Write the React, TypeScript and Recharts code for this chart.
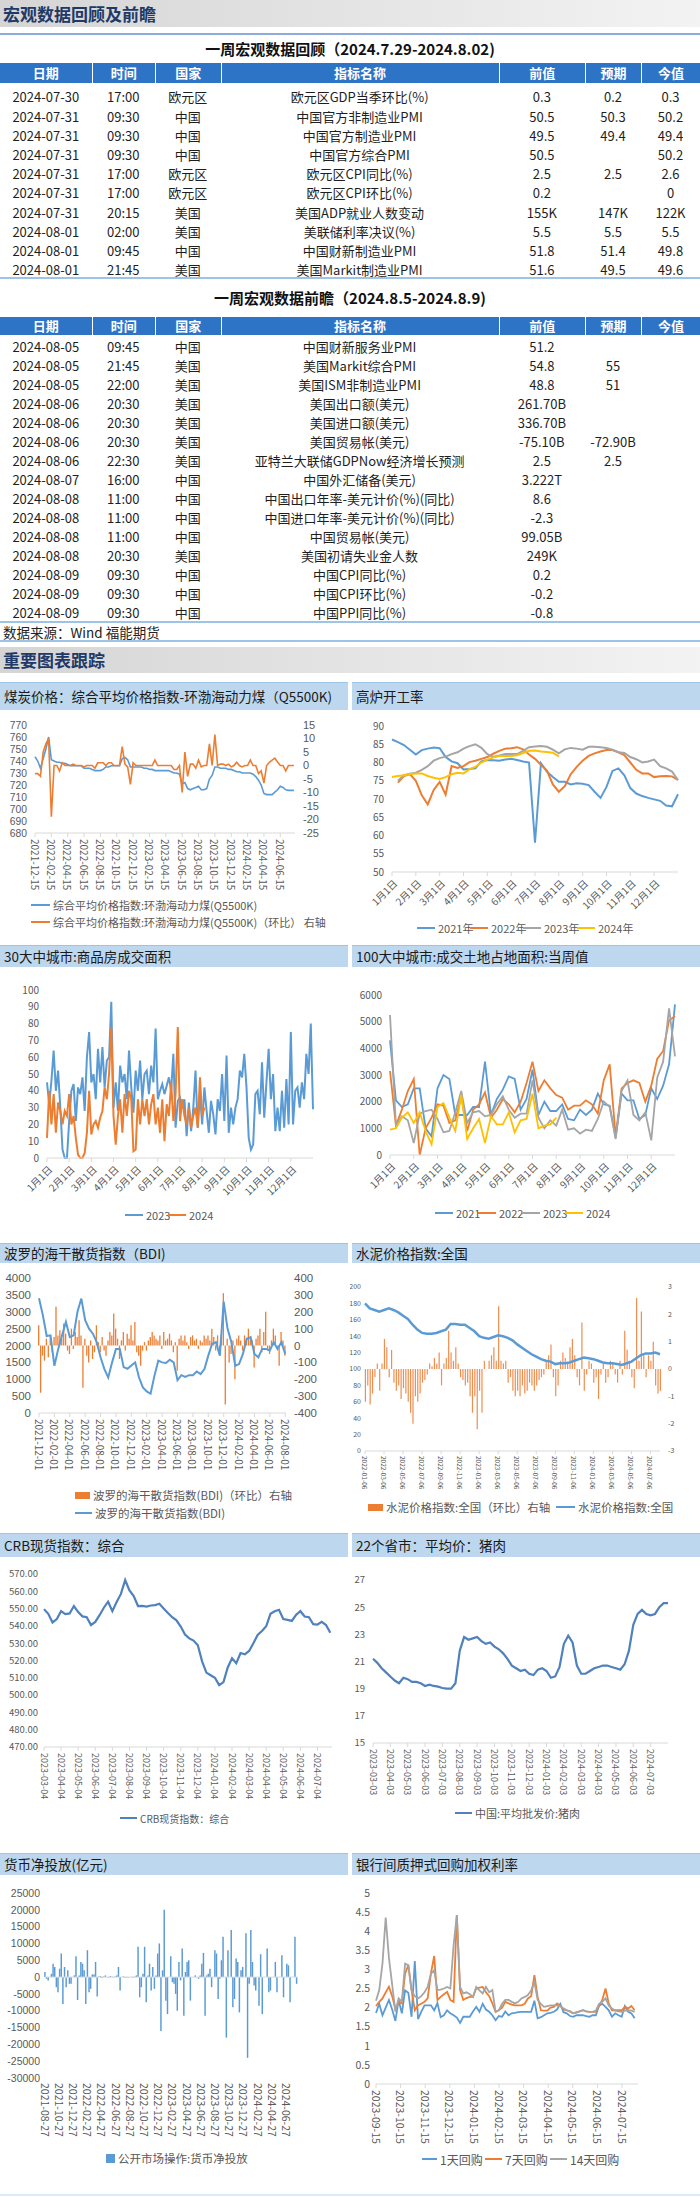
import React from 'react';
import { ComposedChart, LineChart, BarChart, Line, Bar, XAxis, YAxis, ReferenceLine } from 'recharts';

const FONT = '"Noto Sans CJK SC", "Noto Sans", sans-serif';
const GRAY = '#595959';
const BLUE = '#5B9BD5';
const ORANGE = '#ED7D31';
const SILVER = '#A5A5A5';
const GOLD = '#FFC000';
const AXIS = '#D9D9D9';

// ---------- tables ----------
const tableHead = ['日期', '时间', '国家', '指标名称', '前值', '预期', '今值'];
const colW = [91.5, 63.5, 65.5, 278.2, 86.3, 56, 59];

const reviewRows = [
  ['2024-07-30', '17:00', '欧元区', '欧元区GDP当季环比(%)', '0.3', '0.2', '0.3'],
  ['2024-07-31', '09:30', '中国', '中国官方非制造业PMI', '50.5', '50.3', '50.2'],
  ['2024-07-31', '09:30', '中国', '中国官方制造业PMI', '49.5', '49.4', '49.4'],
  ['2024-07-31', '09:30', '中国', '中国官方综合PMI', '50.5', '', '50.2'],
  ['2024-07-31', '17:00', '欧元区', '欧元区CPI同比(%)', '2.5', '2.5', '2.6'],
  ['2024-07-31', '17:00', '欧元区', '欧元区CPI环比(%)', '0.2', '', '0'],
  ['2024-07-31', '20:15', '美国', '美国ADP就业人数变动', '155K', '147K', '122K'],
  ['2024-08-01', '02:00', '美国', '美联储利率决议(%)', '5.5', '5.5', '5.5'],
  ['2024-08-01', '09:45', '中国', '中国财新制造业PMI', '51.8', '51.4', '49.8'],
  ['2024-08-01', '21:45', '美国', '美国Markit制造业PMI', '51.6', '49.5', '49.6'],
];

const previewRows = [
  ['2024-08-05', '09:45', '中国', '中国财新服务业PMI', '51.2', '', ''],
  ['2024-08-05', '21:45', '美国', '美国Markit综合PMI', '54.8', '55', ''],
  ['2024-08-05', '22:00', '美国', '美国ISM非制造业PMI', '48.8', '51', ''],
  ['2024-08-06', '20:30', '美国', '美国出口额(美元)', '261.70B', '', ''],
  ['2024-08-06', '20:30', '美国', '美国进口额(美元)', '336.70B', '', ''],
  ['2024-08-06', '20:30', '美国', '美国贸易帐(美元)', '-75.10B', '-72.90B', ''],
  ['2024-08-06', '22:30', '美国', '亚特兰大联储GDPNow经济增长预测', '2.5', '2.5', ''],
  ['2024-08-07', '16:00', '中国', '中国外汇储备(美元)', '3.222T', '', ''],
  ['2024-08-08', '11:00', '中国', '中国出口年率-美元计价(%)(同比)', '8.6', '', ''],
  ['2024-08-08', '11:00', '中国', '中国进口年率-美元计价(%)(同比)', '-2.3', '', ''],
  ['2024-08-08', '11:00', '中国', '中国贸易帐(美元)', '99.05B', '', ''],
  ['2024-08-08', '20:30', '美国', '美国初请失业金人数', '249K', '', ''],
  ['2024-08-09', '09:30', '中国', '中国CPI同比(%)', '0.2', '', ''],
  ['2024-08-09', '09:30', '中国', '中国CPI环比(%)', '-0.2', '', ''],
  ['2024-08-09', '09:30', '中国', '中国PPI同比(%)', '-0.8', '', ''],
];

// ---------- tick labels ----------
const coalTicks = ['2021-12-15', '2022-02-15', '2022-04-15', '2022-06-15', '2022-08-15', '2022-10-15', '2022-12-15', '2023-02-15', '2023-04-15', '2023-06-15', '2023-08-15', '2023-10-15', '2023-12-15', '2024-02-15', '2024-04-15', '2024-06-15'];
const monthTicks = ['1月1日', '2月1日', '3月1日', '4月1日', '5月1日', '6月1日', '7月1日', '8月1日', '9月1日', '10月1日', '11月1日', '12月1日'];
const bdiTicks = ['2021-12-01', '2022-02-01', '2022-04-01', '2022-06-01', '2022-08-01', '2022-10-01', '2022-12-01', '2023-02-01', '2023-04-01', '2023-06-01', '2023-08-01', '2023-10-01', '2023-12-01', '2024-02-01', '2024-04-01', '2024-06-01', '2024-08-01'];
const cementTicks = ['2022-01-06', '2022-03-06', '2022-05-06', '2022-07-06', '2022-09-06', '2022-11-06', '2023-01-06', '2023-03-06', '2023-05-06', '2023-07-06', '2023-09-06', '2023-11-06', '2024-01-06', '2024-03-06', '2024-05-06', '2024-07-06'];
const crbTicks = ['2023-03-04', '2023-04-04', '2023-05-04', '2023-06-04', '2023-07-04', '2023-08-04', '2023-09-04', '2023-10-04', '2023-11-04', '2023-12-04', '2024-01-04', '2024-02-04', '2024-03-04', '2024-04-04', '2024-05-04', '2024-06-04', '2024-07-04'];
const porkTicks = ['2023-03-03', '2023-04-03', '2023-05-03', '2023-06-03', '2023-07-03', '2023-08-03', '2023-09-03', '2023-10-03', '2023-11-03', '2023-12-03', '2024-01-03', '2024-02-03', '2024-03-03', '2024-04-03', '2024-05-03', '2024-06-03', '2024-07-03'];
const moneyTicks = ['2021-08-27', '2021-10-27', '2021-12-27', '2022-02-27', '2022-04-27', '2022-06-27', '2022-08-27', '2022-10-27', '2022-12-27', '2023-02-27', '2023-04-27', '2023-06-27', '2023-08-27', '2023-10-27', '2023-12-27', '2024-02-27', '2024-04-27', '2024-06-27'];
const repoTicks = ['2023-09-15', '2023-10-15', '2023-11-15', '2023-12-15', '2024-01-15', '2024-02-15', '2024-03-15', '2024-04-15', '2024-05-15', '2024-06-15', '2024-07-15'];

// ---------- series ----------
// coal, one point every 1/3 month from 2021-12-15
const coalIndex = [
  743.5, 740, 734, 742, 750, 760, 741, 740, 739, 739, 738, 738, 737, 736, 736, 736, 736, 736,
  734, 734, 734, 733, 732, 732, 732, 733, 735, 735, 736, 736, 736, 736, 742, 743, 741, 735,
  735, 735, 735, 735, 734, 734, 733, 733, 732, 732, 732, 732, 732, 732, 731, 730, 730, 729,
  721, 722, 717, 716, 717, 718, 719, 716, 716, 717, 725, 728, 735, 735, 734, 734, 734, 733,
  733, 732, 731, 731, 730, 730, 730, 730, 729, 727, 724, 720, 713, 712, 712, 712, 714, 716,
  719, 718, 716, 715.5, 715.5, 715.5,
];
const coalMoM = [
  -3, -3, -4, 5, 8, 10, -19, 0, 0, -2, 1, 0, 0, 0, 0.5, 0, 0, 0,
  -0.5, 0, 0, 0, -1, 1, 1, 1, 0, 1, 1, 0, 0, 0, 7, 0.5, -0.5, -7,
  1, 0, 0, 0, 0, 0, 0, 0, 2, 0, 0, 0, 0, 0, 0, -1.5, -1.5, 0,
  -10, 5, -4, 0.5, 0.5, -1, 2, -0.5, 0, 0, 8, 0, 11.5, 0, 0.5, 0.5, 0, 0.5,
  -0.5, 0, 1.2, 0, -0.5, 0, 0, 2, 0, 0, -3, -2, -6.5, 0, 1.2, 2, 2.7, 1.3,
  0, 0, -2, 0, 0, 0,
];

// blast furnace, 4 points per month
const bf2021 = [86.3, 85.6, 84.8, 83.5, 82.2, 83.4, 83.8, 84.1, 83.9, 81.5, 80.3, 79.8, 78.1, 78.2, 78.4, 80.3, 80.7, 80.6, 80.5, 80.8, 81.0, 80.7, 80.3, 80.0, 58, 79.8, 77.5, 76.0, 74.7, 74.7, 74.0, 74.3, 74.2, 73.8, 72.0, 70.3, 73.3, 77.7, 78.4, 76.5, 73.0, 71.5, 70.8, 70.3, 69.9, 69.5, 68.2, 68.0, 71.3];
const bf2022 = [null, 74.5, 76.3, 76.8, 75.0, 71.0, 68.5, 72.5, 74.7, 71.2, 79.0, 78.5, 79.0, 80.1, 80.5, 81.0, 81.5, 82.4, 83.2, 83.8, 83.9, 84.2, 83.6, 82.2, 81.0, 79.4, 77.8, 74.0, 72.0, 73.5, 76.8, 78.8, 80.5, 81.8, 82.5, 83.0, 83.4, 83.4, 82.8, 82.0, 80.0, 78.0, 77.0, 77.0, 76.0, 76.2, 76.3, 76.2, 75.2];
const bf2023 = [null, 75.0, 76.5, 76.9, 77.2, 78.0, 79.0, 80.5, 81.2, 81.6, 82.3, 82.8, 83.8, 84.5, 85.0, 84.0, 82.3, 81.6, 81.9, 82.3, 82.3, 82.3, 83.2, 84.2, 84.4, 84.5, 84.3, 83.5, 82.5, 83.6, 84.0, 83.8, 83.5, 84.3, 84.3, 84.2, 84.0, 83.5, 82.8, 82.6, 81.5, 80.9, 80.0, 80.3, 80.8, 79.0, 78.4, 77.5, 75.2];
const bf2024 = [76.0, 76.3, 76.5, 76.8, 77.0, 77.0, 76.3, 75.8, 75.5, 76.0, 76.8, 77.2, 77.0, 78.2, 78.8, 80.0, 80.8, 81.4, 81.8, 81.8, 81.8, 82.0, 82.6, 83.2, 83.3, 83.0, 82.9, 82.7, 81.7];

// 30 cities housing sales, 10 points per month
const house2023 = [
  45, 32, 46, 64, 40, 52, 30, 5, 0, 0, 22, 40, 44, 22, 42, 38, 48, 28, 60, 75,
  45, 50, 35, 65, 45, 66, 42, 58, 60, 93, 30, 45, 28, 55, 45, 50, 35, 64, 42, 27,
  52, 40, 58, 35, 50, 52, 38, 55, 45, 77, 35, 40, 44, 38, 43, 48, 40, 62, 18, 34,
  36, 30, 35, 13, 33, 16, 30, 52, 18, 38, 20, 42, 28, 15, 34, 26, 14, 35, 28, 50,
  22, 61, 15, 30, 20, 30, 35, 52, 48, 62, 42, 12, 5, 8, 38, 40, 26, 57, 24, 45,
  65, 35, 50, 16, 30, 16, 40, 18, 47, 20, 75, 20, 40, 42, 30, 45, 35, 62, 50, 80, 29,
];
const house2024 = [
  12, 40, 20, 38, 15, 33, 28, 20, 28, 25, 38, 20, 25, 12, 2, 0, 0, 3, 15, 40,
  14, 20, 22, 18, 24, 28, 42, 35, 50, 78, 25, 8, 25, 35, 15, 38, 25, 40, 35, 4,
  5, 35, 20, 35, 25, 35, 20, 32, 38, 20, 30, 15, 35, 10, 32, 25, 45, 22, 38, 78,
  22, 35, 25, 20, 30, 18, 25, 30, 18, 48, 25, 30,
];

// 100 cities land area, 4 points per month
const land2021 = [4300, 2050, 1800, 1900, 2500, 2500, 1000, 700, 2500, 3000, 2850, 1500, 1500, 1500, 1800, 1800, 3500, 1500, 2100, 2450, 2950, 2850, 1700, 2100, 3200, 1500, 2000, 1650, 1650, 1900, 1350, 1300, 1700, 1500, 1700, 2300, 1900, 1850, 650, 2300, 2050, 2050, 1350, 1500, 2500, 2100, 2600, 3400, 5650];
const land2022 = [3150, 1100, 1700, 2400, 2850, 0, 1000, 1400, 1900, 1850, 1200, 1300, 2200, 900, 1700, 1900, 2350, 1400, 1700, 2100, 1900, 1600, 2000, 2700, 3500, 2400, 2800, 2500, 2250, 2150, 1700, 1850, 1850, 2050, 1900, 1550, 2800, 3400, 700, 2500, 2700, 2800, 2700, 2000, 2600, 3600, 3900, 5050, 5200];
const land2023 = [5250, 1100, 1450, 1300, 450, 1550, 1650, 1700, 1350, 850, 900, 1600, 2400, 1200, 1600, 1650, 1450, 1500, 1900, 2200, 1700, 1400, 1550, 1550, 2800, 1400, 1000, 1300, 1100, 1700, 950, 1000, 800, 950, 900, 1350, 2000, 1800, 600, 2400, 2800, 1500, 1300, 1600, 550, 2900, 3500, 5500, 3700];
const land2024 = [950, 1000, 1400, 1600, 1200, 1600, 900, 400, 1800, 1950, 1400, 900, 2250, 600, 1000, 1350, 450, 1450, 1150, 1150, 1600, 850, 1300, 1350, 2300, 1000, 1100, 1150, 1400];

// BDI: index every half month, change every quarter month, from 2021-12-01
const bdiIndex = [3400, 2900, 2280, 2300, 1400, 1900, 2300, 2700, 2250, 2300, 3000, 3390, 2750, 2500, 2350, 2100, 1650, 1300, 1050, 1500, 1900, 1900, 1360, 1310, 1410, 1500, 1050, 760, 640, 570, 1100, 1550, 1500, 1480, 1580, 1500, 970, 1120, 1070, 1120, 1120, 1230, 1150, 1300, 1700, 2050, 2100, 1700, 3300, 2500, 2100, 1400, 1450, 1750, 2200, 2250, 1750, 1650, 1900, 1900, 1850, 2100, 1900, 2100, 1750];
const bdiChange = [
  120, -280, -60, -90, 40, -70, 60, -40, 50, 230, 60, 90, 40, 130, 70, -30, -50, 100, -20, 80,
  50, 150, 60, -250, 40, -60, -100, 30, -80, -40, 120, 20, -40, 50, -30, -60, 30, 80, 60, 190,
  100, 40, -80, 30, 80, -30, 70, 40, 120, 30, 140, -40, -60, -120, -30, 20, -30, 30, 50, 80,
  60, 40, 30, 60, -20, 80, 30, 40, 70, 30, -40, 20, -150, 40, 60, 30, 60, 20, -20, 50,
  60, 30, 40, -20, 30, 20, 60, 40, 60, 30, 100, 50, -30, 60, -40, 60, 310, -350, 40, -100,
  -50, 30, -200, 40, 60, 30, -30, 60, 40, 100, 50, 30, -130, 40, 60, 100, -40, 80, 200, -30,
  -50, 30, 100, 60, -20, -120, 80, 30, -60,
];

// cement: index every half month, change every quarter month, from 2022-01-06
const cementIndex = [180, 174, 172, 170, 172, 174, 172, 169, 165, 161, 154, 148, 144, 143, 143, 144, 146, 148, 155, 155, 154, 154, 150, 146, 140, 138, 137, 139, 141, 140, 138, 135, 130, 126, 122, 118, 115, 112, 110, 109, 106, 107, 107, 108, 110, 112, 114, 113, 112, 110, 108, 107, 107, 106, 105, 107, 109, 113, 117, 119, 119, 120, 118];
const cementChange = [
  -1.2, -0.6, -1.3, -0.9, -0.3, 0.2, -0.8, 0.2, 1.1, 0.8, -0.3, 0.7, -0.5, -0.8, -0.6, -1.1, -0.7, -0.9, -1.2, -1.6,
  -2.0, -1.0, -1.2, -0.9, -0.5, -0.4, -0.2, 0.2, 0.1, 0.4, 0.2, 0.6, -0.6, 0.2, 0.4, 1.4, 0.6, 0.3, 0.8, 0.2,
  -0.3, -0.4, -0.6, -0.5, -1.0, -1.6, -1.0, -2.2, -0.8, -1.6, 0.3, 0.0, 0.3, 0.5, 0.8, 0.3, 2.3, 0.3, 0.2, 0.3,
  -0.5, -0.3, -0.8, -1.0, -0.8, -1.0, -0.6, -0.9, -0.8, -0.5, -0.6, -0.8, -0.6, -0.4, -0.3, -0.2, 0.3, 0.5, 0.9, -0.3,
  -1.0, -0.6, 0.3, 0.6, 0.4, 0.2, 0.8, 1.1, 0.5, -0.3, -0.6, 1.7, -0.8, -0.2, 0.3, 0.2, -0.5, -0.3, -1.1, -0.2,
  0.2, -0.5, -0.3, 0.3, 0.2, -0.2, -0.5, 0.3, -0.2, 1.4, 0.7, 0.3, -0.3, -0.7, 2.6, 0.3, 2.1, 0.5, -0.3, 0.5,
  0.3, 1.0, -0.6, -0.9, -0.8,
];

// CRB, weekly from 2023-03-04
const crbValues = [549.7, 547, 542, 544, 548.5, 546.8, 547.2, 551.5, 548, 545.5, 545, 540.5, 542.3, 546.2, 550.5, 554, 548.5, 553.8, 558.5, 566.5, 560.5, 557.2, 551.5, 551.6, 551.2, 551.8, 552, 552.8, 550, 547.5, 545, 543.2, 539.6, 535, 532.8, 531.5, 528.8, 519.5, 513, 511.5, 510, 505.8, 507.5, 516, 521.3, 518.4, 524.3, 523.6, 525.5, 530, 534.8, 537, 539.8, 547, 548.5, 549.3, 544, 543.5, 542.9, 546.4, 548.5, 545.4, 545, 541, 540.8, 542.3, 540.5, 536];

// pork, weekly from 2023-03-03
const porkValues = [21.2, 20.9, 20.5, 20.2, 19.9, 19.6, 19.4, 19.8, 19.7, 19.5, 19.5, 19.4, 19.2, 19.3, 19.2, 19.15, 19.05, 19.0, 19.0, 19.4, 21.8, 22.8, 22.6, 22.7, 22.8, 22.5, 22.3, 22.4, 22.1, 21.9, 21.6, 21.2, 20.7, 20.5, 20.3, 20.4, 20.1, 20.0, 20.4, 20.5, 20.3, 19.8, 19.9, 20.6, 22.3, 22.9, 22.4, 20.7, 20.1, 20.1, 20.3, 20.5, 20.6, 20.7, 20.7, 20.6, 20.5, 20.4, 20.8, 21.8, 23.7, 24.5, 24.8, 24.5, 24.4, 24.5, 25.0, 25.3, 25.3];

// net money injection, weekly from 2021-08-27
const moneyValues = [
  1500, -500, -1000, 0, 1000, 4000, 3000, -3000, -4500, 2500, 7000, -8000, 3000, -3000, 2000, -2000, -2000, 0, 500, 6200,
  -6800, 500, 4500, 4000, 2000, -8000, 8000, -4500, -3500, 800, 800, 4500, -5800, 200, 300, -300, 200, 500, 0, -200,
  300, 100, -100, 200, 500, 3000, -4000, 0, 200, -200, 100, -100, 0, 100, -100, 200, 500, 9000, -6000, -3000,
  1000, 9000, -7500, 500, 4000, -4000, 3000, -3500, 500, 7000, 10000, -16000, 2000, 20000, -7000, -11000, 0, 6200, -1500, -2000,
  -5000, -10000, 4500, -1000, 8500, -11500, 1500, 4500, 5000, -7000, 0, 0, 500, 0, -500, 500, 4000, 7200, -11500, 500,
  1000, 2500, -3000, 0, 8000, 7000, -6500, -500, 5000, 12000, 0, -18000, 8000, 0, 14000, -9000, -6500, 5500, 4500, -10500,
  2000, 3000, 0, 13000, -24000, -2000, 14000, 4500, -2500, -4000, 0, -8500, 6800, -11000, 0, 0, 8500, -4500, -4000, 0,
  0, 4500, -4500, 0, 0, 6500, -6000, 0, 4000, 3500, -7500, 0, 0, 12000, -2000,
];

// repo rates, every 4 days from 2023-09-15
const repo1d = [1.86, 2.1, 1.8, 2.0, 2.2, 1.95, 1.65, 2.2, 1.85, 2.45, 2.39, 1.76, 3.22, 1.7, 1.89, 2.06, 2.06, 2.06, 1.93, 2.12, 1.75, 1.8, 1.93, 1.85, 1.8, 1.74, 1.6, 1.76, 1.76, 1.76, 1.9, 2.02, 1.89, 2.1, 1.95, 1.89, 1.8, 1.67, 1.78, 1.76, 1.9, 1.8, 1.85, 1.86, 1.88, 1.89, 1.89, 1.89, 1.89, 2.18, 1.72, 1.75, 1.8, 1.85, 1.86, 1.89, 1.95, 2.1, 1.88, 1.85, 1.78, 1.76, 1.8, 1.8, 1.8, 1.78, 1.76, 1.8, 1.8, 2.05, 2.1, 2.02, 1.93, 1.76, 1.85, 1.8, 1.76, 2.04, 1.89, 1.85, 1.72];
const repo7d = [2.04, 2.15, 2.24, 2.4, 2.55, 2.3, 1.95, 2.15, 2.11, 2.89, 3.11, 2.46, 1.93, 2.06, 2.1, 2.15, 2.25, 2.9, 3.35, 2.2, 2.28, 2.35, 2.41, 2.2, 2.15, 4.42, 2.46, 2.2, 2.25, 2.28, 2.28, 2.5, 2.52, 2.54, 2.4, 2.3, 2.11, 1.89, 1.93, 2.0, 2.15, 2.11, 2.08, 2.06, 2.06, 2.06, 2.1, 2.24, 2.3, 2.85, 2.28, 1.93, 1.92, 1.92, 2.0, 2.02, 2.11, 2.05, 1.95, 1.93, 1.9, 1.85, 1.87, 1.9, 1.93, 1.9, 1.89, 1.89, 1.89, 2.05, 2.2, 2.5, 2.11, 1.93, 1.93, 1.93, 1.93, 2.02, 1.98, 2.04, 1.93];
const repo14d = [2.18, 2.46, 3.15, 4.36, 3.3, 2.6, 1.9, 2.24, 2.15, 3.15, 3.11, 2.45, 2.3, 2.24, 2.3, 2.4, 2.55, 2.89, 2.98, 2.46, 2.47, 2.5, 2.54, 2.5, 3.63, 4.42, 2.54, 2.37, 2.4, 2.35, 2.28, 2.54, 2.45, 2.37, 2.54, 2.4, 2.46, 1.89, 1.93, 2.1, 2.2, 2.2, 2.15, 2.11, 2.15, 2.24, 2.28, 2.33, 2.45, 2.67, 2.2, 2.1, 2.02, 2.04, 2.06, 2.06, 2.06, 2.04, 1.98, 1.93, 1.9, 1.85, 1.88, 1.9, 1.93, 1.9, 1.89, 1.89, 1.92, 2.1, 2.15, 2.24, 2.05, 1.98, 1.92, 1.9, 1.89, 1.92, 1.93, 1.92, 1.89];

// ---------- chart tables (x in months) ----------
const coalData = coalIndex.map((v, i) => ({ x: i / 3, idx: v, mom: coalMoM[i] }));
const bfData = bf2021.map((v, i) => ({ x: i / 4, a: v, b: bf2022[i], c: bf2023[i], d: bf2024[i] ?? null }));
const houseData = house2023.map((v, i) => ({ x: i / 10, a: v, b: house2024[i] ?? null }));
const landData = land2021.map((v, i) => ({ x: i / 4, a: v, b: land2022[i], c: land2023[i], d: land2024[i] ?? null }));
const bdiData = bdiChange.map((v, i) => ({ x: i / 4, chg: v, idx: i % 2 === 0 ? bdiIndex[i / 2] : null }));
const cementData = cementChange.map((v, i) => ({ x: i / 4, chg: v, idx: i % 2 === 0 ? cementIndex[i / 2] : null }));
const crbData = crbValues.map((v, i) => ({ x: i / 4, v }));
const porkData = porkValues.map((v, i) => ({ x: i / 4, v }));
const moneyData = moneyValues.map((v, i) => ({ x: (i * 7) / 30.44, v }));
const repoData = repo1d.map((v, i) => ({ x: (i * 4) / 30.44, a: v, b: repo7d[i], c: repo14d[i] }));

const positions = (labels: string[], every: number) => labels.map((_, i) => i * every);

// ---------- small pieces ----------
const vTick = (labels: string[], every: number, fs: number) => (p: any) => {
  const { x, y, payload } = p;
  const label = labels[Math.round(payload.value / every)] ?? '';
  return (
    <text x={x} y={y} transform={`rotate(90 ${x} ${y})`} textAnchor="start" dominantBaseline="central" fontSize={fs} fill={GRAY}>
      {label}
    </text>
  );
};

const dTick = (p: any) => {
  const { x, y, payload } = p;
  const label = monthTicks[Math.round(payload.value)] ?? '';
  const tx = x + 3;
  const ty = y + 3;
  return (
    <text x={tx} y={ty} transform={`rotate(-45 ${tx} ${ty})`} textAnchor="end" dominantBaseline="central" fontSize={10} fill={GRAY}>
      {label}
    </text>
  );
};

const Box = ({ left, top, children }: any) => <div style={{ position: 'absolute', left, top }}>{children}</div>;

const Section = ({ top, h, text }: any) => (
  <div style={{ position: 'absolute', left: 0, top, width: 700, height: h, background: 'linear-gradient(90deg, #d5d5d5, #f3f3f3)' }}>
    <span style={{ position: 'absolute', left: 3, top: 0, lineHeight: `${h}px`, fontSize: 17, fontWeight: 700, color: '#1F3A66' }}>{text}</span>
  </div>
);

const TitleBar = ({ left, top, w, h, text }: any) => (
  <div style={{ position: 'absolute', left, top, width: w, height: h, background: '#BDD7EE', borderTop: '1px solid #9DC3E6', boxSizing: 'border-box', paddingLeft: 4, fontSize: 13.5, lineHeight: `${h - 1}px`, color: '#1a1a1a', whiteSpace: 'nowrap', overflow: 'hidden' }}>
    {text}
  </div>
);

const Caption = ({ cy, text }: any) => (
  <div style={{ position: 'absolute', left: 0, top: cy - 11, width: 700, height: 22, lineHeight: '22px', textAlign: 'center', fontSize: 15, fontWeight: 700, color: '#111' }}>{text}</div>
);

const HLine = ({ top, color, h = 1.5 }: any) => <div style={{ position: 'absolute', left: 0, top, width: 700, height: h, background: color }} />;

const Table = ({ top, headH, rows, rowTop, rowH }: any) => (
  <>
    <div style={{ position: 'absolute', left: 0, top, width: 700, height: headH, display: 'flex', background: '#2E74C6' }}>
      {tableHead.map((h, i) => (
        <div key={i} style={{ width: colW[i], boxSizing: 'border-box', borderLeft: i ? '1.5px solid #fff' : 'none', color: '#fff', fontWeight: 700, fontSize: 13, lineHeight: `${headH}px`, textAlign: 'center' }}>{h}</div>
      ))}
    </div>
    {rows.map((r: string[], ri: number) => (
      <div key={ri} style={{ position: 'absolute', left: 0, top: rowTop + ri * rowH, width: 700, height: rowH, display: 'flex' }}>
        {r.map((c, ci) => (
          <div key={ci} style={{ width: colW[ci], textAlign: 'center', fontSize: 13, lineHeight: `${rowH}px`, whiteSpace: 'nowrap', color: '#1e1e1e' }}>{c}</div>
        ))}
      </div>
    ))}
  </>
);

const LegendItem = ({ x, y, color, text, kind = 'line', w = 18, fs = 11 }: any) => (
  <div style={{ position: 'absolute', left: x, top: y - 9, height: 18, display: 'flex', alignItems: 'center', whiteSpace: 'nowrap' }}>
    <div style={{ width: w, height: kind === 'line' ? 2.5 : kind === 'box' ? 9 : 7, background: color }} />
    <span style={{ marginLeft: 3, fontSize: fs, color: GRAY }}>{text}</span>
  </div>
);

const yTick = (fs: number) => ({ fontSize: fs, fill: GRAY });
const yTickLatin = (fs: number) => ({ fontSize: fs, fill: GRAY, fontFamily: '"Liberation Sans", Arial, sans-serif' });

export default function App() {
  return (
    <div style={{ position: 'absolute', left: 0, top: 0, width: 700, height: 2197, background: '#fff', fontFamily: FONT, overflow: 'hidden' }}>
      <Section top={0} h={27} text="宏观数据回顾及前瞻" />
      <HLine top={33} color="#8EAADB" />
      <Caption cy={49} text="一周宏观数据回顾（2024.7.29-2024.8.02)" />
      <Table top={63} headH={20} rows={reviewRows} rowTop={87.4} rowH={19.2} />
      <HLine top={277} color="#9DC3E6" h={2} />

      <Caption cy={298} text="一周宏观数据前瞻（2024.8.5-2024.8.9)" />
      <Table top={317} headH={18} rows={previewRows} rowTop={336.5} rowH={19.07} />
      <HLine top={621} color="#9DC3E6" h={1.5} />
      <div style={{ position: 'absolute', left: 3, top: 623, height: 18, lineHeight: '18px', fontSize: 13.5, color: '#222' }}>数据来源：Wind 福能期货</div>
      <HLine top={640} color="#9DC3E6" h={1.5} />

      <Section top={647} h={26} text="重要图表跟踪" />

      {/* row 1 */}
      <TitleBar left={0} top={682} w={348} h={28} text="煤炭价格：综合平均价格指数-环渤海动力煤（Q5500K)" />
      <TitleBar left={352} top={682} w={348} h={28} text="高炉开工率" />
      <Box left={0} top={715}>
        <ComposedChart width={340} height={188} data={coalData} margin={{ top: 10, right: 0, bottom: 0, left: 0 }}>
          <XAxis type="number" dataKey="x" domain={[0, 31.8]} ticks={positions(coalTicks, 2)} interval={0} height={70} tick={vTick(coalTicks, 2, 10)} tickSize={4} axisLine={{ stroke: AXIS }} tickLine={{ stroke: AXIS }} />
          <YAxis yAxisId="l" domain={[680, 770]} ticks={[680, 690, 700, 710, 720, 730, 740, 750, 760, 770]} interval={0} width={35} axisLine={false} tickLine={false} tick={yTickLatin(10.3)} />
          <YAxis yAxisId="r" orientation="right" domain={[-25, 15]} ticks={[-25, -20, -15, -10, -5, 0, 5, 10, 15]} interval={0} width={45} axisLine={false} tickLine={false} tick={yTickLatin(11)} />
          <Line yAxisId="l" dataKey="idx" stroke={BLUE} strokeWidth={1.6} dot={false} isAnimationActive={false} />
          <Line yAxisId="r" dataKey="mom" stroke={ORANGE} strokeWidth={1.6} dot={false} isAnimationActive={false} />
        </ComposedChart>
      </Box>
      <LegendItem x={31} y={905} color={BLUE} w={19} text="综合平均价格指数:环渤海动力煤(Q5500K)" />
      <LegendItem x={31} y={922} color={ORANGE} w={19} text="综合平均价格指数:环渤海动力煤(Q5500K)（环比） 右轴" />

      <Box left={350} top={718}>
        <LineChart width={340} height={204} data={bfData} margin={{ top: 8, right: 12, bottom: 0, left: 0 }}>
          <XAxis type="number" dataKey="x" domain={[0, 12]} ticks={positions(monthTicks, 1)} interval={0} height={50} tick={dTick} tickSize={4} axisLine={{ stroke: AXIS }} tickLine={{ stroke: AXIS }} />
          <YAxis domain={[50, 90]} ticks={[50, 55, 60, 65, 70, 75, 80, 85, 90]} interval={0} width={42} axisLine={false} tickLine={false} tick={yTick(10)} />
          <Line dataKey="a" stroke={BLUE} strokeWidth={2} dot={false} isAnimationActive={false} />
          <Line dataKey="b" stroke={ORANGE} strokeWidth={2} dot={false} isAnimationActive={false} />
          <Line dataKey="c" stroke={SILVER} strokeWidth={2} dot={false} isAnimationActive={false} />
          <Line dataKey="d" stroke={GOLD} strokeWidth={2} dot={false} isAnimationActive={false} />
        </LineChart>
      </Box>
      <LegendItem x={417} y={928} color={BLUE} text="2021年" />
      <LegendItem x={470} y={928} color={ORANGE} text="2022年" />
      <LegendItem x={523} y={928} color={SILVER} text="2023年" />
      <LegendItem x={577} y={928} color={GOLD} text="2024年" />

      {/* row 2 */}
      <TitleBar left={0} top={945} w={348} h={22} text="30大中城市:商品房成交面积" />
      <TitleBar left={352} top={945} w={348} h={22} text="100大中城市:成交土地占地面积:当周值" />
      <Box left={0} top={982}>
        <LineChart width={328} height={226} data={houseData} margin={{ top: 8, right: 15, bottom: 0, left: 0 }}>
          <XAxis type="number" dataKey="x" domain={[0, 12]} ticks={positions(monthTicks, 1)} interval={0} height={50} tick={dTick} tickSize={4} axisLine={{ stroke: AXIS }} tickLine={{ stroke: AXIS }} />
          <YAxis domain={[0, 100]} ticks={[0, 10, 20, 30, 40, 50, 60, 70, 80, 90, 100]} interval={0} width={47} axisLine={false} tickLine={false} tick={yTick(10)} />
          <Line dataKey="a" stroke={BLUE} strokeWidth={2} dot={false} isAnimationActive={false} />
          <Line dataKey="b" stroke={ORANGE} strokeWidth={2} dot={false} isAnimationActive={false} />
        </LineChart>
      </Box>
      <LegendItem x={125} y={1215} color={BLUE} text="2023" />
      <LegendItem x={168} y={1215} color={ORANGE} text="2024" />

      <Box left={350} top={987}>
        <LineChart width={335} height={218} data={landData} margin={{ top: 8, right: 10, bottom: 0, left: 0 }}>
          <XAxis type="number" dataKey="x" domain={[0, 12]} ticks={positions(monthTicks, 1)} interval={0} height={50} tick={dTick} tickSize={4} axisLine={{ stroke: AXIS }} tickLine={{ stroke: AXIS }} />
          <YAxis domain={[0, 6000]} ticks={[0, 1000, 2000, 3000, 4000, 5000, 6000]} interval={0} width={40} axisLine={false} tickLine={false} tick={yTick(10)} />
          <Line dataKey="a" stroke={BLUE} strokeWidth={1.8} dot={false} isAnimationActive={false} />
          <Line dataKey="b" stroke={ORANGE} strokeWidth={1.8} dot={false} isAnimationActive={false} />
          <Line dataKey="c" stroke={SILVER} strokeWidth={1.8} dot={false} isAnimationActive={false} />
          <Line dataKey="d" stroke={GOLD} strokeWidth={1.8} dot={false} isAnimationActive={false} />
        </LineChart>
      </Box>
      <LegendItem x={435} y={1213} color={BLUE} text="2021" />
      <LegendItem x={478} y={1213} color={ORANGE} text="2022" />
      <LegendItem x={522} y={1213} color={SILVER} text="2023" />
      <LegendItem x={565} y={1213} color={GOLD} text="2024" />

      {/* row 3 */}
      <TitleBar left={0} top={1243} w={348} h={20} text="波罗的海干散货指数（BDI)" />
      <TitleBar left={352} top={1243} w={348} h={20} text="水泥价格指数:全国" />
      <Box left={0} top={1270}>
        <ComposedChart width={331} height={208} data={bdiData} margin={{ top: 8, right: 0, bottom: 0, left: 0 }}>
          <XAxis type="number" dataKey="x" domain={[0, 32.1]} ticks={positions(bdiTicks, 2)} interval={0} height={65} tick={vTick(bdiTicks, 2, 10)} tickSize={4} axisLine={{ stroke: AXIS }} tickLine={{ stroke: AXIS }} />
          <YAxis yAxisId="l" domain={[0, 4000]} ticks={[0, 500, 1000, 1500, 2000, 2500, 3000, 3500, 4000]} interval={0} width={39} axisLine={false} tickLine={false} tick={yTickLatin(11.5)} />
          <YAxis yAxisId="r" orientation="right" domain={[-400, 400]} ticks={[-400, -300, -200, -100, 0, 100, 200, 300, 400]} interval={0} width={45} axisLine={false} tickLine={false} tick={yTickLatin(11.5)} />
          <Bar yAxisId="r" dataKey="chg" fill={ORANGE} barSize={1.3} isAnimationActive={false} />
          <Line yAxisId="l" dataKey="idx" stroke={BLUE} strokeWidth={2} dot={false} connectNulls isAnimationActive={false} />
        </ComposedChart>
      </Box>
      <LegendItem x={75} y={1495} color={ORANGE} kind="rect" w={15} fs={11.5} text="波罗的海干散货指数(BDI)（环比）右轴" />
      <LegendItem x={75} y={1513} color={BLUE} w={17} fs={11.5} text="波罗的海干散货指数(BDI)" />

      <Box left={350} top={1279}>
        <ComposedChart width={340} height={227} data={cementData} margin={{ top: 8, right: 0, bottom: 0, left: 0 }}>
          <XAxis type="number" dataKey="x" domain={[0, 31]} ticks={positions(cementTicks, 2)} interval={0} height={55} tick={vTick(cementTicks, 2, 6.5)} tickSize={3} axisLine={{ stroke: AXIS }} tickLine={{ stroke: AXIS }} />
          <YAxis yAxisId="l" domain={[0, 200]} ticks={[0, 20, 40, 60, 80, 100, 120, 140, 160, 180, 200]} interval={0} width={15} tickSize={0} tickMargin={4} axisLine={false} tickLine={false} tick={yTick(7)} />
          <YAxis yAxisId="r" orientation="right" domain={[-3, 3]} ticks={[-3, -2, -1, 0, 1, 2, 3]} interval={0} width={30} axisLine={false} tickLine={false} tick={yTick(7)} />
          <Bar yAxisId="r" dataKey="chg" fill="#F08D4F" barSize={1.2} isAnimationActive={false} />
          <Line yAxisId="l" dataKey="idx" stroke={BLUE} strokeWidth={2.5} dot={false} connectNulls isAnimationActive={false} />
        </ComposedChart>
      </Box>
      <LegendItem x={368} y={1507} color={ORANGE} kind="rect" w={15} fs={11.5} text="水泥价格指数:全国（环比）右轴" />
      <LegendItem x={556} y={1507} color={BLUE} w={19} fs={11.5} text="水泥价格指数:全国" />

      {/* row 4 */}
      <TitleBar left={0} top={1533} w={348} h={24} text="CRB现货指数：综合" />
      <TitleBar left={352} top={1533} w={348} h={24} text="22个省市：平均价：猪肉" />
      <Box left={0} top={1566}>
        <LineChart width={342} height={241} data={crbData} margin={{ top: 8, right: 10, bottom: 0, left: 0 }}>
          <XAxis type="number" dataKey="x" domain={[0, 16.85]} ticks={positions(crbTicks, 1)} interval={0} height={60} tick={vTick(crbTicks, 1, 9)} tickSize={4} axisLine={{ stroke: AXIS }} tickLine={{ stroke: AXIS }} />
          <YAxis domain={[470, 570]} ticks={[470, 480, 490, 500, 510, 520, 530, 540, 550, 560, 570]} interval={0} width={44} tickSize={4} axisLine={false} tickLine={false} tick={yTick(9.5)} tickFormatter={(v: number) => v.toFixed(2)} />
          <Line dataKey="v" stroke="#4F81BD" strokeWidth={2.2} dot={false} isAnimationActive={false} />
        </LineChart>
      </Box>
      <LegendItem x={120} y={1818} color="#4F81BD" w={17} fs={10} text="CRB现货指数：综合" />

      <Box left={350} top={1572}>
        <LineChart width={328} height={231} data={porkData} margin={{ top: 8, right: 10, bottom: 0, left: 0 }}>
          <XAxis type="number" dataKey="x" domain={[0, 17]} ticks={positions(porkTicks, 1)} interval={0} height={60} tick={vTick(porkTicks, 1, 9)} tickSize={4} axisLine={{ stroke: AXIS }} tickLine={{ stroke: AXIS }} />
          <YAxis domain={[15, 27]} ticks={[15, 17, 19, 21, 23, 25, 27]} interval={0} width={23} axisLine={false} tickLine={false} tick={yTick(9.5)} />
          <Line dataKey="v" stroke="#4F81BD" strokeWidth={2.2} dot={false} isAnimationActive={false} />
        </LineChart>
      </Box>
      <LegendItem x={455} y={1813} color="#4F81BD" w={17} fs={11} text="中国:平均批发价:猪肉" />

      {/* row 5 */}
      <TitleBar left={0} top={1853} w={348} h={22} text="货币净投放(亿元)" />
      <TitleBar left={352} top={1853} w={348} h={22} text="银行间质押式回购加权利率" />
      <Box left={0} top={1885}>
        <BarChart width={308} height={253} data={moneyData} margin={{ top: 8, right: 10, bottom: 0, left: 0 }}>
          <XAxis type="number" dataKey="x" domain={[0, 35.6]} ticks={positions(moneyTicks, 2)} interval={0} height={60} tick={vTick(moneyTicks, 2, 10.5)} tickSize={3} axisLine={false} tickLine={false} />
          <YAxis domain={[-30000, 25000]} ticks={[-30000, -25000, -20000, -15000, -10000, -5000, 0, 5000, 10000, 15000, 20000, 25000]} interval={0} width={45} tickSize={3} axisLine={false} tickLine={false} tick={yTickLatin(10.5)} />
          <ReferenceLine y={0} stroke={AXIS} />
          <Bar dataKey="v" fill={BLUE} barSize={2} isAnimationActive={false} />
        </BarChart>
      </Box>
      <LegendItem x={106} y={2158} color={BLUE} kind="box" w={9} fs={11.5} text="公开市场操作:货币净投放" />

      <Box left={350} top={1885}>
        <LineChart width={298} height={259} data={repoData} margin={{ top: 8, right: 10, bottom: 0, left: 0 }}>
          <XAxis type="number" dataKey="x" domain={[0, 10.65]} ticks={positions(repoTicks, 1)} interval={0} height={60} tick={vTick(repoTicks, 1, 10.5)} tickSize={4} axisLine={{ stroke: AXIS }} tickLine={{ stroke: AXIS }} />
          <YAxis domain={[0, 5]} ticks={[0, 0.5, 1, 1.5, 2, 2.5, 3, 3.5, 4, 4.5, 5]} interval={0} width={26} tickSize={4} axisLine={false} tickLine={false} tick={yTick(10.5)} />
          <Line dataKey="a" stroke={BLUE} strokeWidth={1.8} dot={false} isAnimationActive={false} />
          <Line dataKey="b" stroke={ORANGE} strokeWidth={1.8} dot={false} isAnimationActive={false} />
          <Line dataKey="c" stroke={SILVER} strokeWidth={1.8} dot={false} isAnimationActive={false} />
        </LineChart>
      </Box>
      <LegendItem x={422} y={2159} color={BLUE} w={15} fs={12} text="1天回购" />
      <LegendItem x={485} y={2159} color={ORANGE} w={17} fs={12} text="7天回购" />
      <LegendItem x={550} y={2159} color={SILVER} w={17} fs={12} text="14天回购" />

      <HLine top={2194} color="#DDEBF7" h={2} />
    </div>
  );
}
